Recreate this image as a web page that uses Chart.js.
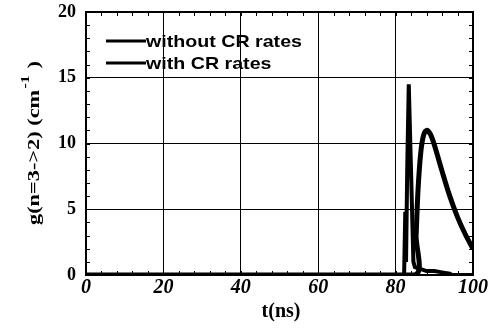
<!DOCTYPE html>
<html>
<head>
<meta charset="utf-8">
<script src="https://cdn.jsdelivr.net/npm/chart.js@4/dist/chart.umd.min.js"></script>
<style>
	html, body { margin: 0; padding: 0; background: #fff; }
	#wrap { width: 492px; height: 329px; }
</style>
</head>
<body>
<div id="wrap"><canvas id="c" width="492" height="329"></canvas></div>
<script>
// Gain g(n=3->2) vs time, with and without CR rates
const xTicks = [0, 20, 40, 60, 80, 100];
const yTicks = [0, 5, 10, 15, 20];
const seriesNames = ["without CR rates", "with CR rates"];

// spike curve
const noCrT = [0, 82.2, 82.5, 82.7, 83.0, 83.4, 83.8, 84.2, 84.6, 85.0, 86.0, 88.0, 90.0, 92.0, 94.0, 94.5, 100];
const noCrG = [0, 0, 4.8, 1.0, 8.0, 14.5, 10.0, 5.5, 1.0, 0.6, 0.5, 0.3, 0.3, 0.2, 0.1, 0, 0];

// broad curve
const crT = [0, 84.8, 85.3, 85.8, 86.5, 87.2, 88.0, 89.0, 90.0, 92.0, 94.0, 96.0, 98.0, 100];
const crG = [0, 0, 3.0, 6.5, 9.3, 10.6, 11.0, 10.7, 9.9, 7.9, 6.0, 4.4, 3.1, 2.0];

const toPts = (xs, ys) => xs.map((x, i) => ({ x: x, y: ys[i] }));

const serif = "'Liberation Serif', 'DejaVu Serif', serif";
const sans = "'Liberation Sans', Arial, sans-serif";

const extras = {
	id: "extras",
	afterDraw(chart) {
		const ctx = chart.ctx;
		const a = chart.chartArea;
		const xs = chart.scales.x, ys = chart.scales.y;
		ctx.save();
		ctx.strokeStyle = "#000";

		// frame
		ctx.lineWidth = 2;
		ctx.strokeRect(a.left, a.top, a.right - a.left, a.bottom - a.top);

		// minor ticks, inward on all sides
		ctx.lineWidth = 1;
		ctx.beginPath();
		for (let t = 0; t <= 100; t += 4) {
			const px = Math.round(xs.getPixelForValue(t)) + 0.5;
			ctx.moveTo(px, a.bottom); ctx.lineTo(px, a.bottom - 4);
			ctx.moveTo(px, a.top); ctx.lineTo(px, a.top + 4);
		}
		for (let g = 0; g <= 20; g += 1) {
			const py = Math.round(ys.getPixelForValue(g)) + 0.5;
			ctx.moveTo(a.left, py); ctx.lineTo(a.left + 4, py);
			ctx.moveTo(a.right, py); ctx.lineTo(a.right - 4, py);
		}
		ctx.stroke();

		// x title
		ctx.fillStyle = "#000";
		ctx.font = "bold 20px " + serif;
		ctx.textAlign = "center";
		ctx.textBaseline = "middle";
		ctx.fillText("t(ns)", 281, 312);

		// y title with superscript, stretched along its length
		ctx.translate(35, 143);
		ctx.rotate(-Math.PI / 2);
		ctx.textAlign = "left";
		ctx.textBaseline = "middle";
		const main = "g(n=3->2) (cm";
		const sup = "-1";
		const tail = " )";
		ctx.font = "bold 17px " + serif;
		const w1 = ctx.measureText(main).width;
		const w3 = ctx.measureText(tail).width;
		ctx.font = "bold 12px " + serif;
		const w2 = ctx.measureText(sup).width + 2;
		const total = w1 + w2 + w3;
		ctx.scale(164 / total, 1);
		const x0 = -total / 2;
		ctx.font = "bold 17px " + serif;
		ctx.fillText(main, x0, 0);
		ctx.font = "bold 12px " + serif;
		ctx.fillText(sup, x0 + w1 + 1, -9);
		ctx.font = "bold 17px " + serif;
		ctx.fillText(tail, x0 + w1 + w2, 0);
		ctx.setTransform(1, 0, 0, 1, 0, 0);

		// legend inside plot area
		ctx.font = "bold 17px " + sans;
		ctx.textBaseline = "middle";
		ctx.textAlign = "left";
		ctx.lineWidth = 3;
		const rows = [41, 63];
		const sx = 156 / ctx.measureText(seriesNames[0]).width;
		seriesNames.forEach((name, i) => {
			ctx.beginPath();
			ctx.moveTo(106, rows[i]);
			ctx.lineTo(146, rows[i]);
			ctx.stroke();
			ctx.save();
			ctx.translate(146, rows[i] + 1);
			ctx.scale(sx, 1);
			ctx.fillText(name, 0, 0);
			ctx.restore();
		});
		ctx.restore();
	}
};

new Chart(document.getElementById("c"), {
	type: "line",
	data: {
		datasets: [
			{
				label: seriesNames[0],
				data: toPts(noCrT, noCrG),
				borderColor: "#000",
				borderWidth: 4,
				pointRadius: 0,
				tension: 0
			},
			{
				label: seriesNames[1],
				data: toPts(crT, crG),
				borderColor: "#000",
				borderWidth: 5,
				pointRadius: 0,
				tension: 0.3
			}
		]
	},
	options: {
		responsive: false,
		animation: false,
		layout: { padding: { top: 12, right: 19, left: 0, bottom: 0 } },
		plugins: { legend: { display: false }, tooltip: { enabled: false } },
		scales: {
			x: {
				type: "linear",
				min: 0,
				max: 100,
				afterBuildTicks: s => { s.ticks = xTicks.map(v => ({ value: v })); },
				afterFit: s => { s.height = 54; s.paddingLeft = 0; s.paddingRight = 0; },
				grid: { color: "#000", lineWidth: 1, drawTicks: false },
				border: { color: "#000", width: 2 },
				ticks: {
					color: "#000",
					padding: 1,
					font: { family: serif, size: 20, weight: "bold", style: "italic" }
				}
			},
			y: {
				min: 0,
				max: 20,
				afterBuildTicks: s => { s.ticks = yTicks.map(v => ({ value: v })); },
				afterFit: s => { s.width = 86; s.paddingTop = 0; s.paddingBottom = 0; },
				grid: { color: "#000", lineWidth: 1, drawTicks: false },
				border: { color: "#000", width: 2 },
				ticks: {
					color: "#000",
					padding: 10,
					font: { family: serif, size: 18, weight: "bold" }
				}
			}
		}
	},
	plugins: [extras]
});
</script>
</body>
</html>
